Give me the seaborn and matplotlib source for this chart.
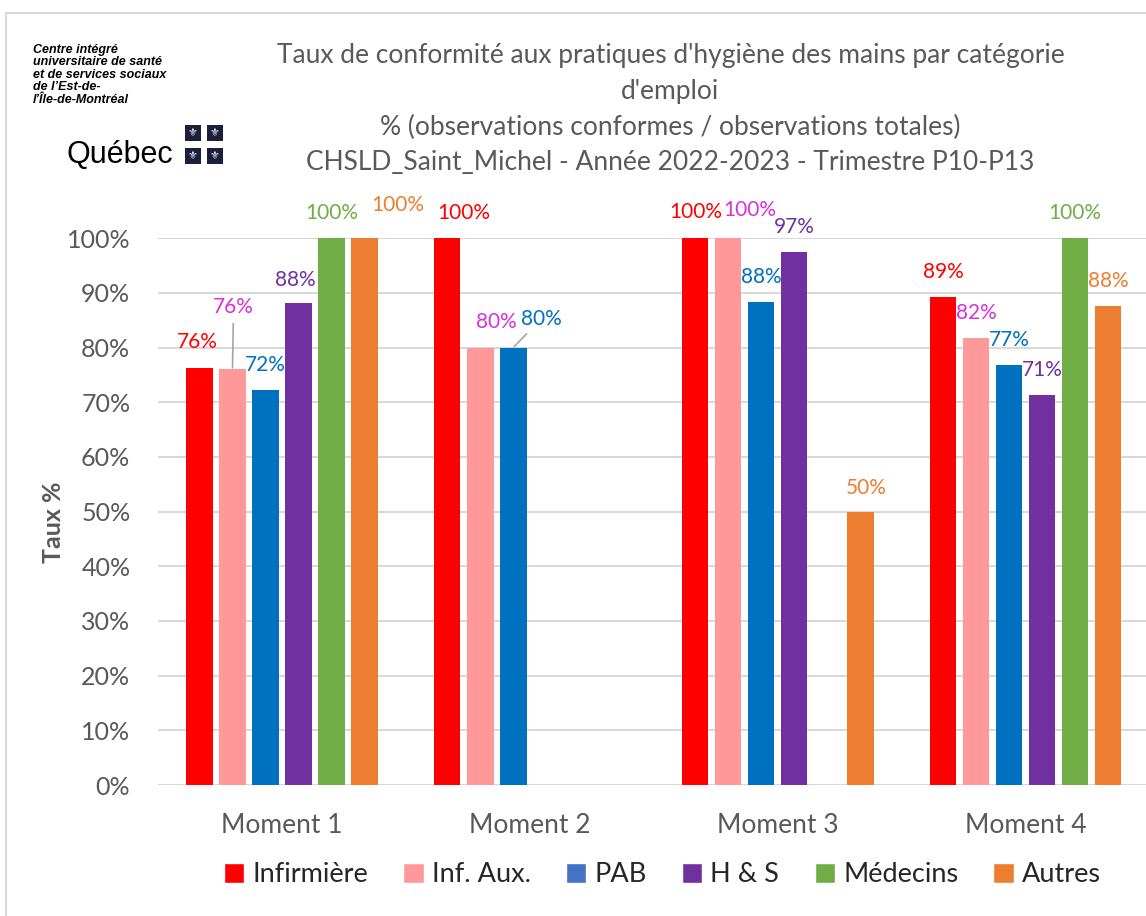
import pandas as pd
import matplotlib.pyplot as plt
import seaborn as sns
import numpy as np
from matplotlib.patches import Rectangle
from matplotlib.lines import Line2D

# data (percent)
moments = ['Moment 1', 'Moment 2', 'Moment 3', 'Moment 4']
categories = ['Infirmière', 'Inf. Aux.', 'PAB', 'H & S', 'Médecins', 'Autres']

infirmiere = [76.3, 100.0, 100.0, 89.2]
inf_aux = [76.0, 80.0, 100.0, 81.7]
pab = [72.2, 80.0, 88.3, 76.8]
h_s = [88.1, np.nan, 97.4, 71.4]
medecins = [100.0, np.nan, np.nan, 100.0]
autres = [100.0, np.nan, 50.0, 87.6]

title_lines = [
    "Taux de conformité aux pratiques d'hygiène des mains par catégorie",
    "d'emploi",
    "% (observations conformes / observations totales)",
    "CHSLD_Saint_Michel - Année 2022-2023 - Trimestre P10-P13",
]
logo_text = "Centre intégré\nuniversitaire de santé\net de services sociaux\nde l’Est-de-\nl’Île-de-Montréal"

bar_colors = ['#FF0000', '#FF9999', '#0070C0', '#7030A0', '#70AD47', '#ED7D31']
label_colors = ['#FF0000', '#D633D6', '#0070C0', '#7030A0', '#70AD47', '#ED7D31']
legend_colors = ['#FF0000', '#FF9999', '#4472C4', '#7030A0', '#70AD47', '#ED7D31']

# label nudges in pixels (dx, dy above bar top), keyed by (moment, category)
nudges = {
    (0, 0): (-2, 26), (0, 1): (1, 62), (0, 3): (-3, 23), (0, 5): (33, 33),
    (1, 0): (16, 25), (1, 1): (16, 26), (1, 2): (28, 29),
    (2, 0): (1, 26), (2, 1): (22, 28), (2, 5): (6, 24),
}
leaders = [(0, 1), (1, 2)]

df = pd.DataFrame({'Moment': moments, 'Infirmière': infirmiere, 'Inf. Aux.': inf_aux,
                   'PAB': pab, 'H & S': h_s, 'Médecins': medecins, 'Autres': autres})
df = df.melt(id_vars='Moment', var_name='Catégorie', value_name='Taux').dropna()

sns.set_style('white')
plt.rcParams['font.family'] = ['Lato', 'DejaVu Sans']

fig = plt.figure(figsize=(11.46, 9.16), dpi=100)
ax = fig.add_axes([0.138, 0.143, 0.865, 0.597])

sns.barplot(data=df, x='Moment', y='Taux', hue='Catégorie', order=moments,
            hue_order=categories, palette=dict(zip(categories, bar_colors)),
            saturation=1, width=0.8, gap=0.2, linewidth=0, legend=False, ax=ax)

ax.set_ylim(0, 100)
ax.set_xlim(-0.5, 3.5)
ax.set_yticks(np.arange(0, 101, 10))
ax.set_yticklabels([f'{v}%' for v in range(0, 101, 10)])
ax.yaxis.grid(True, color='#D9D9D9', linewidth=1.5)
ax.set_axisbelow(True)
for s in ax.spines.values():
    s.set_visible(False)
ax.tick_params(axis='y', length=0, pad=20, labelsize=18, labelcolor='#595959')
ax.tick_params(axis='x', length=0, pad=20, labelsize=19, labelcolor='#595959')
ax.set_xlabel('')
ax.set_ylabel('Taux %', fontsize=18, fontweight='bold', color='#595959')
ax.yaxis.set_label_coords(-0.094, 0.48)

# data labels
px = 72 / fig.dpi
for ci, cont in enumerate(ax.containers):
    for bar in cont:
        h = bar.get_height()
        if np.isnan(h):
            continue
        xc = bar.get_x() + bar.get_width() / 2
        mi = int(round(xc))
        dx, dy = nudges.get((mi, ci), (0, 25))
        props = None
        if (mi, ci) in leaders:
            props = dict(arrowstyle='-', color='#A6A6A6', lw=1.2, shrinkA=2, shrinkB=1)
        ax.annotate(f'{h:.0f}%', xy=(xc, h), xytext=(dx * px, dy * px),
                    textcoords='offset points', ha='center', va='center',
                    fontsize=15, color=label_colors[ci], annotation_clip=False,
                    arrowprops=props)

# title
for i, line in enumerate(title_lines):
    fig.text(0.585, 1 - (55 + i * 36) / 916, line, ha='center', va='center',
             fontsize=19, color='#595959')

# legend
handles = [Rectangle((0, 0), 1, 1, facecolor=c) for c in legend_colors]
fig.legend(handles, categories, loc='center', bbox_to_anchor=(0.578, 1 - 875 / 916),
           ncol=6, frameon=False, fontsize=19.5, handlelength=0.75, handleheight=0.75,
           handletextpad=0.3, columnspacing=1.3, labelcolor='#262626')

# logo
fig.text(33 / 1146, 1 - 44 / 916, logo_text, ha='left', va='top', fontsize=9,
         fontweight='bold', fontstyle='italic', family='Liberation Sans',
         linespacing=1.05, color='black')
fig.text(66 / 1146, 1 - 163 / 916, 'Québec', ha='left', va='baseline', fontsize=22,
         family='Liberation Sans', color='black')
for sx in (185, 207):
    for sy in (125, 148):
        fig.patches.append(Rectangle((sx / 1146, 1 - (sy + 16) / 916), 16 / 1146, 16 / 916,
                                     transform=fig.transFigure, facecolor='#1b1f3b',
                                     edgecolor='none'))
        fig.text((sx + 8) / 1146, 1 - (sy + 8) / 916, '⚜', ha='center', va='center',
                 fontsize=8, color='white', family='DejaVu Sans')

# outer frame (left and top only visible)
fig.add_artist(Line2D([6 / 1146, 6 / 1146], [0, 1 - 13 / 916], transform=fig.transFigure,
                      color='#D9D9D9', lw=1.5))
fig.add_artist(Line2D([6 / 1146, 1], [1 - 13 / 916, 1 - 13 / 916], transform=fig.transFigure,
                      color='#D9D9D9', lw=1.5))

fig.savefig('out.png', dpi=100, facecolor='white')
